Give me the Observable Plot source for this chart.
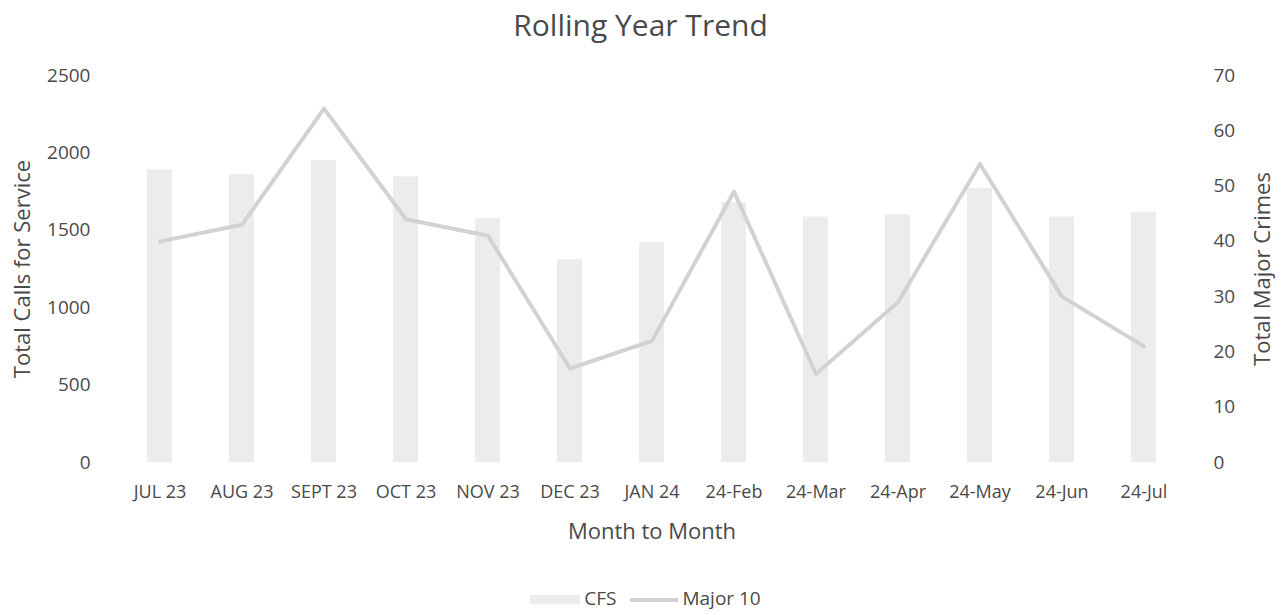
<!DOCTYPE html>
<html>
<head>
<meta charset="utf-8">
<script src="https://cdn.jsdelivr.net/npm/d3@7"></script>
<script src="https://cdn.jsdelivr.net/npm/@observablehq/plot@0.6"></script>
<style>
  body { margin: 0; background: #fff; font-family: "Open Sans", sans-serif; color: #4a4a4a; }
  #wrap { width: 1281px; height: 615px; position: relative; overflow: hidden; }
  #title { height: 50px; line-height: 50px; text-align: center; font-size: 30px; color: #4a4a4a; }
  #legend { display: flex; justify-content: center; align-items: center; gap: 14px; font-size: 19px; margin-top: 25px; margin-left: 10px; }
  .sw { display: inline-block; vertical-align: middle; margin-right: 4px; }
</style>
</head>
<body>
<div id="wrap">
  <div id="title">Rolling Year Trend</div>
  <div id="chart"></div>
  <div id="legend">
    <span><span class="sw" style="width:50px;height:9px;background:#ececec"></span>CFS</span>
    <span><span class="sw" style="width:48px;height:4px;background:#d2d2d2"></span>Major 10</span>
  </div>
</div>
<script>
const months = ["JUL 23","AUG 23","SEPT 23","OCT 23","NOV 23","DEC 23","JAN 24","24-Feb","24-Mar","24-Apr","24-May","24-Jun","24-Jul"];
const cfs = [1890, 1860, 1950, 1845, 1575, 1310, 1420, 1680, 1585, 1600, 1770, 1585, 1615];
const major10 = [40, 43, 64, 44, 41, 17, 22, 49, 16, 29, 54, 30, 21];
const leftTicks = [0, 500, 1000, 1500, 2000, 2500];
const rightTicks = [0, 10, 20, 30, 40, 50, 60, 70];

const leftMax = 2500, rightMax = 70;
const k = leftMax / rightMax;
const rows = months.map((m, i) => ({month: m, cfs: cfs[i], major: major10[i], majorScaled: major10[i] * k}));

const chart = Plot.plot({
  width: 1281,
  height: 510,
  marginTop: 25,
  marginBottom: 98,
  marginLeft: 114,
  marginRight: 92,
  style: {fontFamily: "Open Sans, sans-serif", fontSize: "19px", color: "#4a4a4a", background: "#fff"},
  x: {domain: months, paddingInner: 0.7, paddingOuter: 0.35},
  y: {domain: [0, leftMax]},
  marks: [
    Plot.barY(rows, {x: "month", y: "cfs", fill: "#ececec"}),
    Plot.line(rows, {x: "month", y: "majorScaled", stroke: "#d2d2d2", strokeWidth: 4, strokeLinejoin: "round", strokeLinecap: "round"}),
    Plot.axisX({tickSize: 0, tickPadding: 23, label: null, fontSize: 18}),
    Plot.axisY({anchor: "left", ticks: leftTicks, tickFormat: d3.format("d"), tickSize: 0, tickPadding: 24, label: null, fontSize: 19}),
    Plot.axisY({anchor: "right", ticks: rightTicks.map(v => v * k), tickFormat: d => String(Math.round(d / k)), tickSize: 0, tickPadding: 24, label: null, fontSize: 19}),
    Plot.text(["Month to Month"], {frameAnchor: "bottom", lineAnchor: "middle", dy: 69, fontSize: 22, fill: "#4a4a4a"}),
    Plot.text(["Total Calls for Service"], {frameAnchor: "left", textAnchor: "middle", lineAnchor: "middle", dx: -92, rotate: -90, fontSize: 22, fill: "#4a4a4a"}),
    Plot.text(["Total Major Crimes"], {frameAnchor: "right", textAnchor: "middle", lineAnchor: "middle", dx: 73, rotate: -90, fontSize: 22, fill: "#4a4a4a"})
  ]
});
document.getElementById("chart").appendChild(chart);
</script>
</body>
</html>
